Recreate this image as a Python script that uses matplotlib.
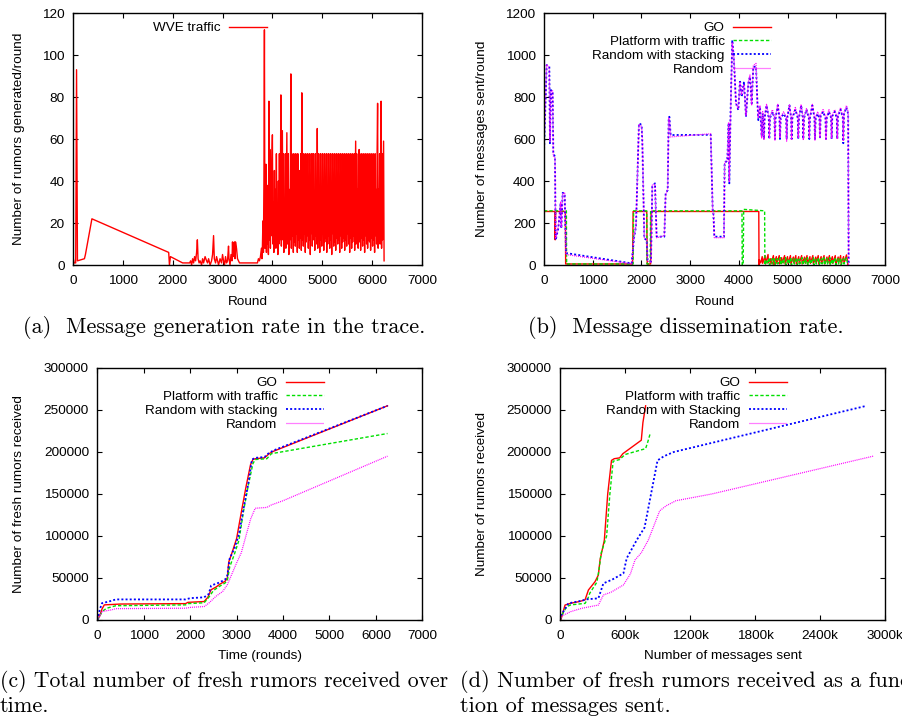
"""Rumor dissemination figure: trace rate, dissemination rate, fresh rumors."""

import matplotlib

matplotlib.use("Agg")
import matplotlib.pyplot as plt
import numpy as np

plt.rcParams["font.family"] = ["Liberation Sans", "DejaVu Sans"]
plt.rcParams["font.size"] = 9.7

RED = "#ff0000"
GREEN = "#00e000"
BLUE = "#0000ff"
MAGENTA = "#ff00ff"

# ---- (a) WVE traffic: rumors generated per round -------------------------
WVE_X_HEAD = [
    0, 15, 25, 55, 72, 90, 230, 250, 380, 1920, 1935, 1955, 2200, 2340,
    2360, 2380, 2400, 2420, 2440, 2460, 2480, 2495, 2510, 2530,
    2550, 2580, 2600, 2620, 2650, 2680, 2700, 2720, 2750, 2780,
    2800, 2820, 2835, 2860, 2880, 2900, 2920, 2950, 2980, 3000,
    3020, 3040, 3060, 3080, 3100, 3120, 3130, 3150, 3170, 3190,
    3200, 3210, 3220, 3240, 3250, 3260, 3280, 3300, 3340, 3700,
    3720, 3740, 3760, 3780, 3790, 3800, 3810, 3820, 3830, 3840,
    3850,
]
WVE_Y_HEAD = [
    4, 2, 1, 1, 93, 2, 3, 5, 22, 6, 0, 4, 1, 1,
    2, 0, 3, 1, 4, 2, 6, 12, 3, 1,
    2, 0, 3, 1, 4, 2, 1, 3, 0, 2,
    5, 14, 3, 1, 4, 2, 0, 3, 1, 5,
    2, 0, 4, 1, 2, 9, 3, 0, 5, 2,
    11, 4, 10, 11, 3, 11, 8, 3, 1, 1,
    3, 2, 4, 8, 3, 9, 21, 6, 40, 112,
    8,
]
# dense part of the trace, one reading every 10 rounds from 3860 to 6240
WVE_DENSE_START, WVE_DENSE_END = 3860, 6240
WVE_Y_DENSE = [
    20, 48, 6, 38, 10, 30, 5, 78, 12, 55,
    8, 35, 14, 50, 62, 10, 30, 6, 45, 12,
    36, 8, 53, 15, 28, 5, 40, 10, 53, 12,
    35, 81, 9, 36, 64, 12, 53, 6, 30, 14,
    53, 8, 36, 63, 10, 25, 53, 5, 36, 12,
    30, 91, 8, 53, 14, 36, 6, 53, 11, 35,
    9, 53, 15, 30, 6, 53, 12, 36, 8, 45,
    13, 53, 7, 82, 12, 36, 9, 53, 15, 28,
    6, 53, 11, 36, 14, 53, 8, 30, 12, 53,
    5, 36, 15, 53, 9, 25, 53, 12, 35, 7,
    53, 14, 36, 10, 65, 8, 53, 13, 30, 6,
    53, 12, 36, 9, 53, 15, 28, 7, 53, 11,
    36, 13, 53, 6, 35, 10, 53, 14, 30, 8,
    53, 12, 36, 5, 53, 15, 36, 9, 53, 11,
    30, 7, 53, 13, 36, 10, 53, 12, 28, 6,
    53, 14, 36, 8, 53, 11, 35, 13, 53, 7,
    36, 12, 53, 9, 30, 15, 53, 10, 36, 6,
    53, 13, 36, 8, 53, 11, 28, 14, 53, 7,
    36, 59, 10, 53, 12, 36, 8, 53, 55, 11,
    36, 7, 53, 13, 30, 9, 53, 12, 36, 6,
    53, 14, 36, 10, 53, 8, 30, 12, 53, 11,
    36, 7, 53, 13, 36, 9, 53, 12, 30, 6,
    53, 14, 36, 10, 53, 77, 8, 36, 12, 53,
    10, 36, 78, 8, 53, 12, 36, 59, 2,
]

# ---- (b) messages sent per round ------------------------------------------
GO_B_X = [
    0, 225, 230, 240, 440, 445, 1820, 1830, 2110, 2120, 2190, 2200, 4410, 4415,
    4420, 4450, 4480, 4490, 4540, 4550, 4600, 4610, 4650, 4660,
    4710, 4720, 4770, 4780, 4830, 4840, 4880, 4890, 4940, 4950,
    5000, 5010, 5060, 5070, 5120, 5130, 5170, 5180, 5230, 5240,
    5290, 5300, 5350, 5360, 5400, 5410, 5460, 5470, 5520, 5530,
    5580, 5590, 5630, 5640, 5690, 5700, 5750, 5760, 5810, 5820,
    5860, 5870, 5920, 5930, 5980, 5990, 6040, 6050, 6090, 6100,
    6150, 6160, 6210, 6230, 6240,
]
GO_B_Y = [
    255, 255, 120, 255, 255, 5, 5, 255, 255, 5, 5, 255, 255, 0,
    25, 10, 40, 8, 45, 5, 50, 10, 30, 5,
    45, 0, 40, 8, 45, 5, 35, 10, 45, 5,
    40, 8, 45, 5, 38, 10, 45, 5, 40, 8,
    45, 5, 38, 10, 45, 5, 40, 8, 45, 5,
    38, 10, 45, 5, 40, 8, 45, 5, 38, 10,
    45, 5, 40, 8, 45, 5, 38, 10, 45, 5,
    40, 8, 48, 20, 0,
]
PLAT_B_X = [
    0, 460, 465, 1830, 1840, 2110, 2115, 2180, 2190, 4065, 4070, 4090, 4100, 4530, 4535,
    4560, 4590, 4620, 4630, 4680, 4690, 4730, 4740, 4790, 4800,
    4850, 4860, 4900, 4910, 4960, 4970, 5020, 5030, 5070, 5080,
    5130, 5140, 5190, 5200, 5240, 5250, 5300, 5310, 5360, 5370,
    5410, 5420, 5470, 5480, 5530, 5540, 5580, 5590, 5640, 5650,
    5700, 5710, 5750, 5760, 5810, 5820, 5870, 5880, 5920, 5930,
    5980, 5990, 6040, 6050, 6090, 6100, 6150, 6160, 6210, 6240,
]
PLAT_B_Y = [
    258, 258, 5, 5, 258, 258, 5, 5, 258, 258, 0, 0, 265, 258, 0,
    25, 5, 35, 0, 30, 5, 35, 0, 30, 5,
    35, 0, 28, 5, 35, 0, 30, 5, 35, 0,
    30, 5, 35, 0, 28, 5, 35, 0, 30, 5,
    35, 0, 30, 5, 35, 0, 28, 5, 35, 0,
    30, 5, 35, 0, 30, 5, 35, 0, 28, 5,
    35, 0, 30, 5, 35, 0, 30, 5, 35, 0,
]
RAND_B_X = [
    0, 55, 110, 123, 144, 178, 192, 226, 240, 294,
    342, 356, 384, 425, 452, 1800, 1848, 1889, 1950, 2005,
    2019, 2060, 2108, 2128, 2197, 2224, 2279, 2313, 2471, 2498,
    2540, 2560, 2574, 2601, 3423, 3464, 3478, 3498, 3695, 3709,
    3764, 3791, 3805, 3832, 3866, 3900, 3942, 3990, 4024, 4058,
    4106, 4147, 4195, 4229, 4264, 4298, 4353, 4380, 4400, 4435,
    4470, 4490,
    4516, 4530, 4570, 4615, 4626, 4640, 4690, 4732, 4742, 4755,
    4800, 4835, 4845, 4860, 4920, 4972, 4982, 4995, 5040, 5074,
    5084, 5100, 5160, 5211, 5221, 5235, 5280, 5314, 5324, 5340,
    5390, 5437, 5447, 5460, 5510, 5553, 5563, 5578, 5620, 5656,
    5666, 5680, 5730, 5779, 5789, 5805, 5850, 5895, 5905, 5920,
    5970, 6012, 6022, 6035, 6090, 6135, 6145, 6160, 6210, 6245,
    6255,
]
STACK_B_Y = [
    532, 952, 945, 580, 833, 826, 532, 516, 119, 175,
    294, 175, 344, 341, 57, 8, 127, 183, 675, 667,
    587, 127, 119, 24, 16, 373, 389, 135, 135, 341,
    357, 690, 706, 619, 620, 262, 246, 135, 135, 484,
    500, 675, 389, 738, 1071, 976, 770, 738, 881, 801,
    873, 706, 865, 897, 770, 944, 944, 786, 690, 754,
    611, 720,
    600, 700, 760, 700, 600, 700, 730, 700, 600, 700,
    760, 700, 600, 700, 720, 700, 600, 700, 760, 700,
    600, 700, 740, 700, 600, 700, 760, 700, 600, 700,
    740, 700, 600, 700, 760, 700, 600, 700, 720, 700,
    600, 710, 730, 700, 600, 700, 730, 700, 600, 710,
    730, 700, 600, 710, 740, 700, 580, 720, 750, 720,
    0,
]
RAND_B_Y = [
    540, 955, 940, 590, 830, 830, 520, 510, 125, 180,
    300, 180, 340, 345, 50, 6, 135, 190, 670, 660,
    600, 130, 125, 20, 12, 380, 385, 130, 140, 335,
    360, 700, 700, 610, 625, 255, 250, 130, 130, 490,
    495, 680, 395, 730, 1060, 985, 765, 745, 870, 810,
    860, 710, 870, 905, 760, 950, 960, 780, 700, 760,
    605, 730,
    595, 705, 765, 705, 605, 705, 740, 705, 595, 705,
    765, 705, 605, 705, 730, 705, 590, 705, 765, 705,
    595, 705, 750, 705, 605, 705, 765, 705, 595, 705,
    745, 705, 605, 705, 765, 705, 595, 705, 730, 705,
    605, 715, 740, 705, 595, 705, 740, 705, 605, 715,
    740, 705, 600, 715, 750, 705, 590, 725, 760, 730,
    0,
]

# ---- (c) cumulative fresh rumors over time -------------------------------
GO_C_X = [0, 50, 100, 150, 500, 1900, 1950, 2300, 2380, 2450, 2550, 2650, 2750,
          2800, 2830, 2900, 3000, 3100, 3200, 3300, 3350, 3400, 3600, 3700, 3800, 6250]
GO_C_Y = [0, 5000, 13000, 18000, 19000, 19500, 21000, 22000, 27000, 36000, 39000, 43000,
          46000, 50000, 69000, 80000, 97000, 128000, 158000, 185000, 191000, 192000,
          193000, 198000, 201000, 255000]
PLAT_C_X = [0, 50, 100, 200, 400, 1900, 1950, 2300, 2400, 2500, 2600, 2750, 2800, 2850,
            2950, 3050, 3150, 3250, 3350, 3400, 3650, 3750, 6250]
PLAT_C_Y = [0, 4000, 10000, 14000, 17000, 18000, 19500, 20500, 27000, 35000, 39000, 44000,
            47000, 63000, 78000, 95000, 130000, 160000, 186000, 191000, 192000, 198000, 222000]
STACK_C_X = [0, 50, 100, 250, 400, 1900, 2000, 2300, 2400, 2450, 2600, 2750, 2800, 2850,
             2950, 3050, 3150, 3250, 3330, 3400, 3600, 3700, 3800, 6250]
STACK_C_Y = [0, 12000, 20000, 22000, 24500, 24500, 26000, 27000, 31000, 41000, 44000, 48000,
             53000, 73000, 85000, 102000, 133000, 162000, 191000, 193000, 194000, 199000,
             202000, 255000]
RAND_C_X = [0, 50, 100, 300, 400, 1900, 2000, 2300, 2400, 2550, 2700, 2800, 2900, 3000,
            3100, 3200, 3300, 3400, 3650, 3750, 4000, 6250]
RAND_C_Y = [0, 4000, 10000, 12000, 13500, 14000, 15000, 16000, 20000, 28000, 34000, 42000,
            55000, 68000, 80000, 100000, 120000, 133000, 134000, 137000, 142000, 195000]

# ---- (d) fresh rumors vs messages sent -----------------------------------
GO_D_X = [0, 9e3, 46e3, 100e3, 180e3, 231e3, 262e3, 323e3, 354e3, 369e3, 409e3,
          440e3, 475e3, 500e3, 550e3, 580e3, 750e3, 765e3, 790e3]
GO_D_Y = [0, 800, 17800, 20000, 22000, 24000, 35700, 45600, 53600, 71400, 95200,
          150000, 190000, 192000, 193000, 198000, 214000, 235000, 255000]
PLAT_D_X = [0, 30e3, 62e3, 100e3, 231e3, 255e3, 275e3, 340e3, 360e3, 380e3, 430e3, 460e3,
            490e3, 550e3, 600e3, 790e3, 810e3, 830e3]
PLAT_D_Y = [0, 9000, 15900, 18000, 19800, 25000, 32000, 45000, 60000, 80000, 100000, 150000,
            189000, 191000, 197000, 204000, 212000, 221000]
STACK_D_X = [0, 12e3, 77e3, 200e3, 246e3, 354e3, 400e3, 480e3, 585e3, 615e3, 708e3, 780e3,
             840e3, 900e3, 960e3, 1050e3, 2830e3]
STACK_D_Y = [0, 6000, 19800, 23000, 24600, 25800, 43600, 48000, 55500, 73400, 95200, 110000,
             150000, 190000, 195000, 200000, 255000]
RAND_D_X = [0, 20e3, 100e3, 200e3, 354e3, 400e3, 470e3, 585e3, 650e3, 692e3, 750e3,
            815e3, 920e3, 980e3, 1070e3, 1400e3, 2890e3]
RAND_D_Y = [0, 5000, 10000, 13900, 17800, 29800, 33000, 41700, 55000, 71400, 80000,
            95200, 130000, 136000, 142000, 150000, 195000]

D_TICKS = [0, 600e3, 1200e3, 1800e3, 2400e3, 3000e3]
D_TICK_LABELS = ["0", "600k", "1200k", "1800k", "2400k", "3000k"]

STYLES = {
    "go": dict(color=RED, lw=1.0, ls="-"),
    "plat": dict(color=GREEN, lw=1.0, ls=(0, (2.4, 1.5))),
    "stack": dict(color=BLUE, lw=1.3, ls=(0, (1.1, 1.2))),
    "rand": dict(color=MAGENTA, lw=0.9, ls=(0, (0.8, 0.8))),
}


def _style_axes(ax, xmax, xstep, ymax, ystep):
    ax.set_xlim(0, xmax)
    ax.set_ylim(0, ymax)
    ax.set_xticks(np.arange(0, xmax + 1, xstep))
    ax.set_yticks(np.arange(0, ymax + 1, ystep))
    ax.ticklabel_format(style="plain", useOffset=False)
    ax.tick_params(direction="in", length=3.6, width=0.8, top=True, right=True, pad=6,
                   labelsize=9.7)
    ax.tick_params(axis="x", pad=7)
    for s in ax.spines.values():
        s.set_linewidth(1.0)


def _legend(ax, x_anchor):
    ax.legend(loc="upper right", bbox_to_anchor=(x_anchor, 0.965), frameon=False,
              markerfirst=False, handlelength=2.8, handletextpad=0.65,
              labelspacing=0.1, borderaxespad=0, borderpad=0, fontsize=9.7)


fig = plt.figure(figsize=(9.03, 7.19), dpi=100)
ax_a = fig.add_axes([0.0808, 0.6314, 0.3865, 0.3505])
ax_b = fig.add_axes([0.6024, 0.6314, 0.3776, 0.3505])
ax_c = fig.add_axes([0.1078, 0.1377, 0.3599, 0.3505])
ax_d = fig.add_axes([0.6202, 0.1377, 0.3599, 0.3505])

# (a)
wve_x = WVE_X_HEAD + list(np.linspace(WVE_DENSE_START, WVE_DENSE_END, len(WVE_Y_DENSE)))
wve_y = WVE_Y_HEAD + WVE_Y_DENSE
ax_a.plot(wve_x, wve_y, color=RED, lw=1.0, label="WVE traffic")
_style_axes(ax_a, 7000, 1000, 120, 20)
ax_a.set_xlabel("Round")
ax_a.set_ylabel("Number of rumors generated/round")
_legend(ax_a, 0.556)

# (b)
ax_b.plot(GO_B_X, GO_B_Y, label="GO", **STYLES["go"])
ax_b.plot(PLAT_B_X, PLAT_B_Y, label="Platform with traffic", **STYLES["plat"])
ax_b.plot(RAND_B_X, STACK_B_Y, label="Random with stacking", **STYLES["stack"])
ax_b.plot(RAND_B_X, RAND_B_Y, label="Random", **STYLES["rand"])
_style_axes(ax_b, 7000, 1000, 1200, 200)
ax_b.set_xlabel("Round")
ax_b.set_ylabel("Number of messages sent/round")
_legend(ax_b, 0.666)

# (c)
ax_c.plot(GO_C_X, GO_C_Y, label="GO", **STYLES["go"])
ax_c.plot(PLAT_C_X, PLAT_C_Y, label="Platform with traffic", **STYLES["plat"])
ax_c.plot(STACK_C_X, STACK_C_Y, label="Random with stacking", **STYLES["stack"])
ax_c.plot(RAND_C_X, RAND_C_Y, label="Random", **STYLES["rand"])
_style_axes(ax_c, 7000, 1000, 300000, 50000)
ax_c.set_xlabel("Time (rounds)")
ax_c.set_ylabel("Number of fresh rumors received")
_legend(ax_c, 0.6975)

# (d)
ax_d.plot(GO_D_X, GO_D_Y, label="GO", **STYLES["go"])
ax_d.plot(PLAT_D_X, PLAT_D_Y, label="Platform with traffic", **STYLES["plat"])
ax_d.plot(STACK_D_X, STACK_D_Y, label="Random with Stacking", **STYLES["stack"])
ax_d.plot(RAND_D_X, RAND_D_Y, label="Random", **STYLES["rand"])
_style_axes(ax_d, 3000e3, 600e3, 300000, 50000)
ax_d.set_xticks(D_TICKS)
ax_d.set_xticklabels(D_TICK_LABELS)
ax_d.set_xlabel("Number of messages sent")
ax_d.set_ylabel("Number of rumors received")
_legend(ax_d, 0.698)

for ax, ylab_x in [(ax_a, -0.1375), (ax_b, -0.164), (ax_c, -0.222), (ax_d, -0.2215)]:
    ax.xaxis.set_label_coords(0.5, -0.121)
    ax.yaxis.set_label_coords(ylab_x, 0.5)

cap = dict(family="cmr10", fontsize=16, va="baseline")
fig.text(0.248, 0.5369, "(a)  Message generation rate in the trace.", ha="center", **cap)
fig.text(0.7597, 0.5369, "(b)  Message dissemination rate.", ha="center", **cap)
fig.text(0.0, 0.0445, "(c) Total number of fresh rumors received over", ha="left",
         **{**cap, "fontsize": 15.6})
fig.text(0.0, 0.0095, "time.", ha="left", **cap)
fig.text(0.5094, 0.0445, "(d) Number of fresh rumors received as a func-", ha="left", **cap)
fig.text(0.5094, 0.0095, "tion of messages sent.", ha="left", **cap)

fig.savefig("out.png", dpi=100)
